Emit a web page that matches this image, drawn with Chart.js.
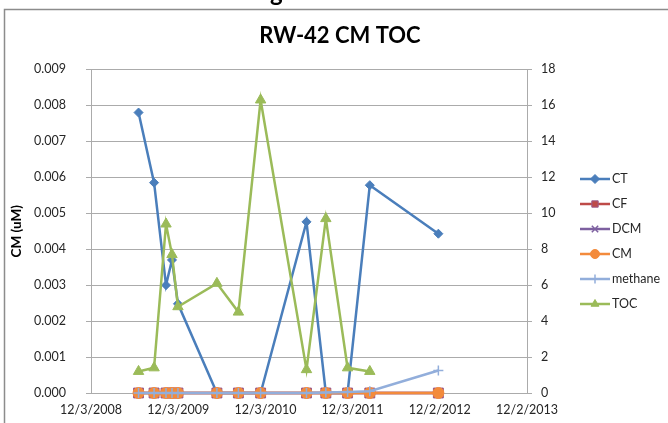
<!DOCTYPE html>
<html>
<head>
<meta charset="utf-8">
<script src="https://cdn.jsdelivr.net/npm/chart.js@4.4.1/dist/chart.umd.min.js"></script>
<style>
  html, body { margin: 0; padding: 0; background: #fff; }
  #wrap { position: relative; width: 668px; height: 423px; }
</style>
</head>
<body>
<div id="wrap"><canvas id="chart" width="668" height="423"></canvas></div>
<script>
// sampling dates
const sampleDates = ['2009-06-20', '2009-08-24', '2009-10-13', '2009-11-07', '2009-12-02',
  '2010-05-14', '2010-08-12', '2010-11-13', '2011-05-24', '2011-08-13', '2011-11-12',
  '2012-02-13', '2012-11-26'];

// left axis, uM
const ct  = [0.0078, 0.00585, 0.003, 0.0037, 0.00248, 0, 0, 0, 0.00476, 0, 0, 0.00578, 0.00443];
const cf  = [0, 0, 0, 0, 0, 0, 0, 0, 0, 0, 0, 0, 0];
const dcm = [0, 0, 0, 0, 0, 0, 0, 0, 0, 0, 0, 0, 0];
const cm  = [0, 0, 0, 0, 0, 0, 0, 0, 0, 0, 0, 0, 0];
// right axis
const methane = [0, 0, 0, 0, 0, 0, 0, 0, 0, 0.03, 0.06, 0.1, 1.25];
const toc = [1.2, 1.4, 9.4, 7.7, 4.8, 6.1, 4.5, 16.3, 1.3, 9.7, 1.4, 1.2, null];

const xTickDates = ['2008-12-03', '2009-12-03', '2010-12-03', '2011-12-03', '2012-12-02', '2013-12-02'];

const DAY = 86400000;
function toDay(s) {
  const p = s.split('-').map(Number);
  return Date.UTC(p[0], p[1] - 1, p[2]) / DAY;
}
function fmtDay(v) {
  const d = new Date(v * DAY);
  return (d.getUTCMonth() + 1) + '/' + d.getUTCDate() + '/' + d.getUTCFullYear();
}
function pts(vals) {
  return sampleDates.map((s, i) => ({ x: toDay(s), y: vals[i] })).filter(p => p.y !== null);
}

const xTicks = xTickDates.map(toDay);
const FONT = 'Lato, "Open Sans", sans-serif';
const gridColor = '#ababab';

function series(label, vals, color, style, radius, axis, order, extra) {
  return Object.assign({
    label: label,
    data: pts(vals),
    yAxisID: axis,
    borderColor: color,
    backgroundColor: color,
    pointBackgroundColor: color,
    pointBorderColor: color,
    borderWidth: 2.5,
    pointStyle: style,
    pointRadius: radius,
    pointHoverRadius: radius,
    pointBorderWidth: 1,
    tension: 0,
    clip: false,
    order: order
  }, extra || {});
}

const datasets = [
  series('CT', ct, '#4a7ebb', 'rectRot', 4.5, 'y', 6),
  series('CF', cf, '#be4b48', 'rect', 7, 'y', 5, { pointBorderColor: '#9a5a8a' }),
  series('DCM', dcm, '#7d60a0', 'crossRot', 5, 'y', 4, { pointBorderWidth: 1.5 }),
  series('CM', cm, '#f38b3c', 'circle', 5.5, 'y', 3),
  series('methane', methane, '#92aedb', 'cross', 5, 'y1', 2, { pointBorderWidth: 1.5 }),
  series('TOC', toc, '#9bbb59', 'triangle', 6, 'y1', 1)
];

// white page with the outer chart frame
const framePlugin = {
  id: 'frame',
  beforeDraw(chart) {
    const c = chart.ctx;
    c.save();
    c.fillStyle = '#fff';
    c.fillRect(0, 0, chart.width, chart.height);
    c.strokeStyle = '#8c8c8c';
    c.lineWidth = 1.5;
    c.strokeRect(4.5, 9.5, 700, 450);
    // tail of a letter from the page text above the chart
    c.fillStyle = '#000';
    c.font = 'bold 24px ' + FONT;
    c.textAlign = 'left';
    c.textBaseline = 'alphabetic';
    c.fillText('g', 270, 1);
    c.restore();
  }
};

// excel-like legend: short line with the marker in its middle
const legendPlugin = {
  id: 'sideLegend',
  afterDraw(chart) {
    const c = chart.ctx;
    c.save();
    chart.data.datasets.forEach((ds, i) => {
      const y = 179 + i * 25;
      c.strokeStyle = ds.borderColor;
      c.lineWidth = ds.borderWidth;
      c.beginPath();
      c.moveTo(580, y);
      c.lineTo(610, y);
      c.stroke();
      c.fillStyle = ds.pointBackgroundColor;
      c.strokeStyle = ds.pointBorderColor;
      c.lineWidth = ds.pointBorderWidth;
      Chart.helpers.drawPoint(c, {
        pointStyle: ds.pointStyle,
        radius: Math.min(ds.pointRadius, 4.5),
        rotation: 0,
        borderWidth: ds.pointBorderWidth
      }, 595, y);
      c.fillStyle = '#262626';
      c.font = '12.5px ' + FONT;
      c.textAlign = 'left';
      c.textBaseline = 'middle';
      c.fillText(ds.label, 612, y);
    });
    c.restore();
  }
};

const ctx = document.getElementById('chart').getContext('2d');
const chart = new Chart(ctx, {
  type: 'line',
  data: { datasets: datasets },
  plugins: [framePlugin, legendPlugin],
  options: {
    responsive: false,
    animation: false,
    events: [],
    layout: { padding: { left: 12, right: 0, top: 0, bottom: 0 } },
    plugins: {
      legend: { display: false },
      tooltip: { enabled: false },
      title: {
        display: true,
        text: 'RW-42 CM TOC',
        color: '#000',
        font: { family: FONT, size: 22, weight: 'bold' },
        padding: { top: 23, bottom: 20 }
      }
    },
    scales: {
      x: {
        type: 'linear',
        min: xTicks[0],
        max: xTicks[xTicks.length - 1],
        afterBuildTicks: (scale) => { scale.ticks = xTicks.map(v => ({ value: v })); },
        afterFit: (scale) => { scale.height = 30; },
        grid: { display: false, drawTicks: false },
        border: { display: true, color: gridColor },
        ticks: {
          autoSkip: false,
          maxRotation: 0,
          padding: 9,
          color: '#262626',
          font: { family: FONT, size: 12.5 },
          callback: (v) => fmtDay(v)
        }
      },
      y: {
        position: 'left',
        min: 0,
        max: 0.009,
        afterFit: (scale) => { scale.width = 79; },
        grid: { color: gridColor, tickLength: 5 },
        border: { display: true, color: gridColor },
        ticks: {
          stepSize: 0.001,
          padding: 20,
          color: '#262626',
          font: { family: FONT, size: 12.5 },
          callback: (v) => v.toFixed(3)
        },
        title: {
          display: true,
          text: 'CM (uM)',
          color: '#000',
          font: { family: FONT, size: 13.5, weight: 'bold' },
          padding: { top: -3, bottom: 0 }
        }
      },
      y1: {
        position: 'right',
        min: 0,
        max: 18,
        afterFit: (scale) => { scale.width = 141; },
        grid: { drawOnChartArea: false, color: gridColor, tickLength: 5 },
        border: { display: true, color: gridColor },
        ticks: {
          stepSize: 2,
          padding: 9,
          color: '#262626',
          font: { family: FONT, size: 12.5 }
        }
      }
    }
  }
});
</script>
</body>
</html>
